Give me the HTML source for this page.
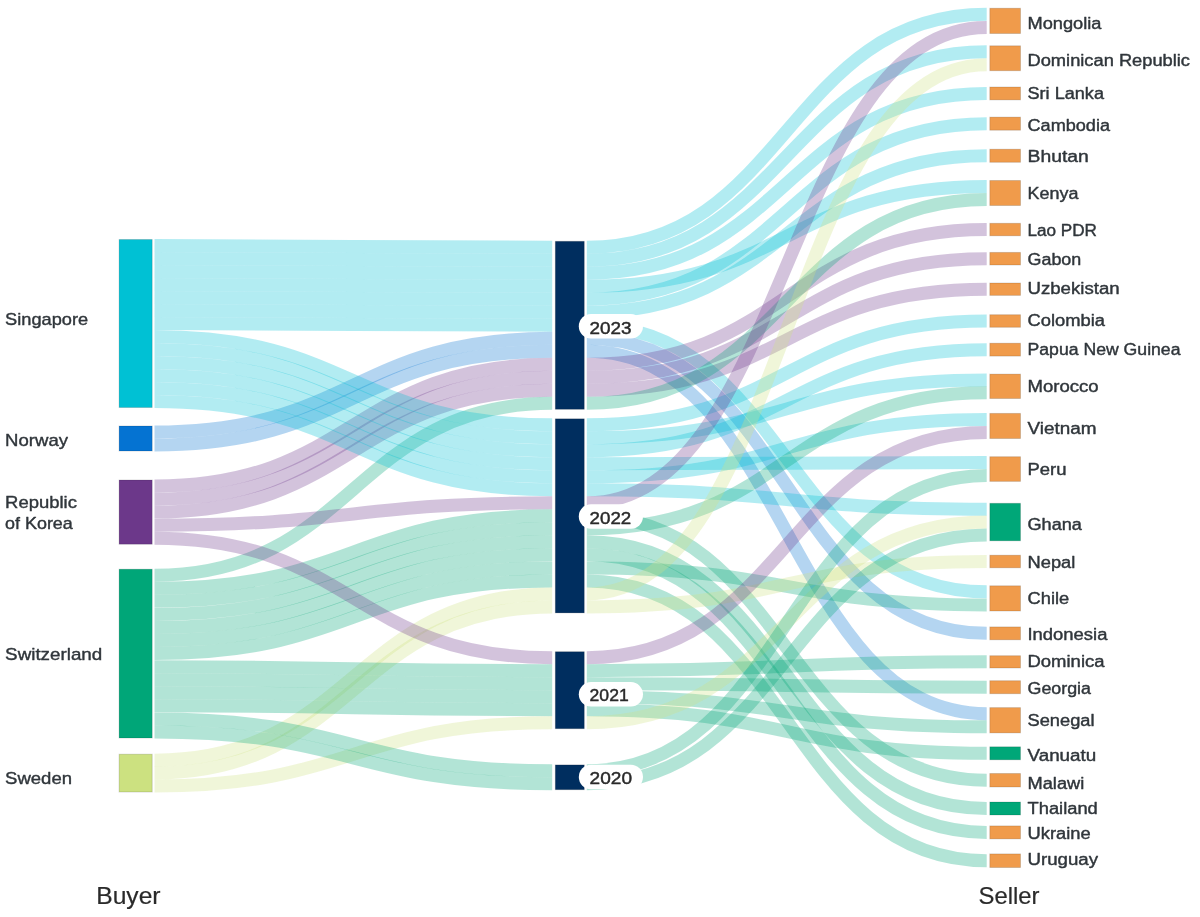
<!DOCTYPE html>
<html><head><meta charset="utf-8"><title>Sankey</title>
<style>
html,body{margin:0;padding:0;background:#fff;}
body{width:1200px;height:917px;overflow:hidden;}
svg{display:block;filter:blur(0.4px);}
.nd{stroke:#000;stroke-opacity:0.14;stroke-width:1px;}
text{font-family:"Liberation Sans",Arial,sans-serif;fill:#333;stroke-linejoin:round;}
.yl{font-size:17.4px;fill:#2a2a2a;stroke:#2a2a2a;stroke-width:0.45px;}
.bl{font-size:16.6px;fill:#30363b;stroke:#30363b;stroke-width:0.4px;}
.sl{font-size:15.6px;fill:#30363b;stroke:#30363b;stroke-width:0.4px;}
.hd{font-size:23.8px;fill:#2a2a2a;stroke:#2a2a2a;stroke-width:0.2px;}
</style></head><body>
<svg width="1200" height="917" viewBox="0 0 1200 917">
<g fill="none" stroke-opacity="0.3">
<path d="M154.5,245.50C353.4,245.50 353.4,247.30 552.2,247.30" stroke="#00C1D4" stroke-width="13.0"/>
<path d="M154.5,258.50C353.4,258.50 353.4,260.30 552.2,260.30" stroke="#00C1D4" stroke-width="13.0"/>
<path d="M154.5,271.50C353.4,271.50 353.4,273.30 552.2,273.30" stroke="#00C1D4" stroke-width="13.0"/>
<path d="M154.5,284.50C353.4,284.50 353.4,286.30 552.2,286.30" stroke="#00C1D4" stroke-width="13.0"/>
<path d="M154.5,297.50C353.4,297.50 353.4,299.30 552.2,299.30" stroke="#00C1D4" stroke-width="13.0"/>
<path d="M154.5,310.50C353.4,310.50 353.4,312.30 552.2,312.30" stroke="#00C1D4" stroke-width="13.0"/>
<path d="M154.5,323.50C353.4,323.50 353.4,325.30 552.2,325.30" stroke="#00C1D4" stroke-width="13.0"/>
<path d="M154.5,432.00C353.4,432.00 353.4,338.30 552.2,338.30" stroke="#0573D2" stroke-width="13.0"/>
<path d="M154.5,445.00C353.4,445.00 353.4,351.30 552.2,351.30" stroke="#0573D2" stroke-width="13.0"/>
<path d="M154.5,486.02C353.4,486.02 353.4,364.30 552.2,364.30" stroke="#6C388A" stroke-width="13.0"/>
<path d="M154.5,499.06C353.4,499.06 353.4,377.30 552.2,377.30" stroke="#6C388A" stroke-width="13.0"/>
<path d="M154.5,512.10C353.4,512.10 353.4,390.30 552.2,390.30" stroke="#6C388A" stroke-width="13.0"/>
<path d="M154.5,575.23C353.4,575.23 353.4,403.30 552.2,403.30" stroke="#00A678" stroke-width="13.0"/>
<path d="M154.5,336.50C353.4,336.50 353.4,424.80 552.2,424.80" stroke="#00C1D4" stroke-width="13.0"/>
<path d="M154.5,349.50C353.4,349.50 353.4,437.81 552.2,437.81" stroke="#00C1D4" stroke-width="13.0"/>
<path d="M154.5,362.50C353.4,362.50 353.4,450.82 552.2,450.82" stroke="#00C1D4" stroke-width="13.0"/>
<path d="M154.5,375.50C353.4,375.50 353.4,463.82 552.2,463.82" stroke="#00C1D4" stroke-width="13.0"/>
<path d="M154.5,388.50C353.4,388.50 353.4,476.83 552.2,476.83" stroke="#00C1D4" stroke-width="13.0"/>
<path d="M154.5,401.50C353.4,401.50 353.4,489.84 552.2,489.84" stroke="#00C1D4" stroke-width="13.0"/>
<path d="M154.5,525.14C353.4,525.14 353.4,502.84 552.2,502.84" stroke="#6C388A" stroke-width="13.0"/>
<path d="M154.5,588.29C353.4,588.29 353.4,515.85 552.2,515.85" stroke="#00A678" stroke-width="13.0"/>
<path d="M154.5,601.35C353.4,601.35 353.4,528.86 552.2,528.86" stroke="#00A678" stroke-width="13.0"/>
<path d="M154.5,614.42C353.4,614.42 353.4,541.86 552.2,541.86" stroke="#00A678" stroke-width="13.0"/>
<path d="M154.5,627.48C353.4,627.48 353.4,554.87 552.2,554.87" stroke="#00A678" stroke-width="13.0"/>
<path d="M154.5,640.54C353.4,640.54 353.4,567.88 552.2,567.88" stroke="#00A678" stroke-width="13.0"/>
<path d="M154.5,653.60C353.4,653.60 353.4,580.88 552.2,580.88" stroke="#00A678" stroke-width="13.0"/>
<path d="M154.5,760.17C353.4,760.17 353.4,593.89 552.2,593.89" stroke="#CCE180" stroke-width="13.0"/>
<path d="M154.5,773.10C353.4,773.10 353.4,606.90 552.2,606.90" stroke="#CCE180" stroke-width="13.0"/>
<path d="M154.5,538.18C353.4,538.18 353.4,657.70 552.2,657.70" stroke="#6C388A" stroke-width="13.0"/>
<path d="M154.5,666.66C353.4,666.66 353.4,670.70 552.2,670.70" stroke="#00A678" stroke-width="13.0"/>
<path d="M154.5,679.72C353.4,679.72 353.4,683.70 552.2,683.70" stroke="#00A678" stroke-width="13.0"/>
<path d="M154.5,692.78C353.4,692.78 353.4,696.70 552.2,696.70" stroke="#00A678" stroke-width="13.0"/>
<path d="M154.5,705.85C353.4,705.85 353.4,709.70 552.2,709.70" stroke="#00A678" stroke-width="13.0"/>
<path d="M154.5,786.03C353.4,786.03 353.4,722.70 552.2,722.70" stroke="#CCE180" stroke-width="13.0"/>
<path d="M154.5,718.91C353.4,718.91 353.4,770.85 552.2,770.85" stroke="#00A678" stroke-width="13.0"/>
<path d="M154.5,731.97C353.4,731.97 353.4,783.75 552.2,783.75" stroke="#00A678" stroke-width="13.0"/>
<path d="M586.8,247.30C786.8,247.30 786.8,14.31 986.7,14.31" stroke="#00C1D4" stroke-width="13.0"/>
<path d="M586.8,260.30C786.8,260.30 786.8,51.77 986.7,51.77" stroke="#00C1D4" stroke-width="13.0"/>
<path d="M586.8,273.30C786.8,273.30 786.8,93.45 986.7,93.45" stroke="#00C1D4" stroke-width="13.0"/>
<path d="M586.8,286.30C786.8,286.30 786.8,186.50 986.7,186.50" stroke="#00C1D4" stroke-width="13.0"/>
<path d="M586.8,299.30C786.8,299.30 786.8,123.65 986.7,123.65" stroke="#00C1D4" stroke-width="13.0"/>
<path d="M586.8,312.30C786.8,312.30 786.8,155.75 986.7,155.75" stroke="#00C1D4" stroke-width="13.0"/>
<path d="M586.8,325.30C786.8,325.30 786.8,591.85 986.7,591.85" stroke="#00C1D4" stroke-width="13.0"/>
<path d="M586.8,338.30C786.8,338.30 786.8,633.35 986.7,633.35" stroke="#0573D2" stroke-width="13.0"/>
<path d="M586.8,351.30C786.8,351.30 786.8,713.67 986.7,713.67" stroke="#0573D2" stroke-width="13.0"/>
<path d="M586.8,364.30C786.8,364.30 786.8,229.55 986.7,229.55" stroke="#6C388A" stroke-width="13.0"/>
<path d="M586.8,377.30C786.8,377.30 786.8,258.70 986.7,258.70" stroke="#6C388A" stroke-width="13.0"/>
<path d="M586.8,390.30C786.8,390.30 786.8,289.20 986.7,289.20" stroke="#6C388A" stroke-width="13.0"/>
<path d="M586.8,403.30C786.8,403.30 786.8,199.50 986.7,199.50" stroke="#00A678" stroke-width="13.0"/>
<path d="M586.8,424.80C786.8,424.80 786.8,321.00 986.7,321.00" stroke="#00C1D4" stroke-width="13.0"/>
<path d="M586.8,437.81C786.8,437.81 786.8,379.95 986.7,379.95" stroke="#00C1D4" stroke-width="13.0"/>
<path d="M586.8,450.82C786.8,450.82 786.8,349.65 986.7,349.65" stroke="#00C1D4" stroke-width="13.0"/>
<path d="M586.8,463.82C786.8,463.82 786.8,462.62 986.7,462.62" stroke="#00C1D4" stroke-width="13.0"/>
<path d="M586.8,476.83C786.8,476.83 786.8,419.42 986.7,419.42" stroke="#00C1D4" stroke-width="13.0"/>
<path d="M586.8,489.84C786.8,489.84 786.8,509.22 986.7,509.22" stroke="#00C1D4" stroke-width="13.0"/>
<path d="M586.8,502.84C786.8,502.84 786.8,27.44 986.7,27.44" stroke="#6C388A" stroke-width="13.0"/>
<path d="M586.8,515.85C786.8,515.85 786.8,780.25 986.7,780.25" stroke="#00A678" stroke-width="13.0"/>
<path d="M586.8,528.86C786.8,528.86 786.8,392.65 986.7,392.65" stroke="#00A678" stroke-width="13.0"/>
<path d="M586.8,541.86C786.8,541.86 786.8,808.50 986.7,808.50" stroke="#00A678" stroke-width="13.0"/>
<path d="M586.8,554.87C786.8,554.87 786.8,832.40 986.7,832.40" stroke="#00A678" stroke-width="13.0"/>
<path d="M586.8,567.88C786.8,567.88 786.8,604.95 986.7,604.95" stroke="#00A678" stroke-width="13.0"/>
<path d="M586.8,580.88C786.8,580.88 786.8,860.70 986.7,860.70" stroke="#00A678" stroke-width="13.0"/>
<path d="M586.8,593.89C786.8,593.89 786.8,64.72 986.7,64.72" stroke="#CCE180" stroke-width="13.0"/>
<path d="M586.8,606.90C786.8,606.90 786.8,561.50 986.7,561.50" stroke="#CCE180" stroke-width="13.0"/>
<path d="M586.8,657.70C786.8,657.70 786.8,432.48 986.7,432.48" stroke="#6C388A" stroke-width="13.0"/>
<path d="M586.8,670.70C786.8,670.70 786.8,661.85 986.7,661.85" stroke="#00A678" stroke-width="13.0"/>
<path d="M586.8,683.70C786.8,683.70 786.8,687.20 986.7,687.20" stroke="#00A678" stroke-width="13.0"/>
<path d="M586.8,696.70C786.8,696.70 786.8,726.83 986.7,726.83" stroke="#00A678" stroke-width="13.0"/>
<path d="M586.8,709.70C786.8,709.70 786.8,753.30 986.7,753.30" stroke="#00A678" stroke-width="13.0"/>
<path d="M586.8,722.70C786.8,722.70 786.8,522.05 986.7,522.05" stroke="#CCE180" stroke-width="13.0"/>
<path d="M586.8,770.85C786.8,770.85 786.8,475.47 986.7,475.47" stroke="#00A678" stroke-width="13.0"/>
<path d="M586.8,783.75C786.8,783.75 786.8,534.88 986.7,534.88" stroke="#00A678" stroke-width="13.0"/>
</g>
<rect x="119.10" y="239.50" width="33.10" height="168.00" fill="#00C1D4" class="nd"/>
<rect x="119.10" y="426.00" width="33.10" height="25.00" fill="#0573D2" class="nd"/>
<rect x="119.10" y="480.00" width="33.10" height="64.20" fill="#6C388A" class="nd"/>
<rect x="119.10" y="569.20" width="33.10" height="168.80" fill="#00A678" class="nd"/>
<rect x="119.10" y="754.20" width="33.10" height="37.80" fill="#CCE180" class="nd"/>
<rect x="555.30" y="241.30" width="29.00" height="168.00" fill="#002E5F" class="nd"/>
<rect x="555.30" y="418.80" width="29.00" height="194.10" fill="#002E5F" class="nd"/>
<rect x="555.30" y="651.70" width="29.00" height="77.00" fill="#002E5F" class="nd"/>
<rect x="555.30" y="764.90" width="29.00" height="24.80" fill="#002E5F" class="nd"/>
<rect x="989.80" y="8.25" width="30.70" height="25.25" fill="#F09B4B" class="nd"/>
<rect x="989.80" y="45.80" width="30.70" height="24.90" fill="#F09B4B" class="nd"/>
<rect x="989.80" y="87.00" width="30.70" height="12.90" fill="#F09B4B" class="nd"/>
<rect x="989.80" y="117.10" width="30.70" height="13.10" fill="#F09B4B" class="nd"/>
<rect x="989.80" y="149.20" width="30.70" height="13.10" fill="#F09B4B" class="nd"/>
<rect x="989.80" y="180.50" width="30.70" height="25.00" fill="#F09B4B" class="nd"/>
<rect x="989.80" y="223.30" width="30.70" height="12.50" fill="#F09B4B" class="nd"/>
<rect x="989.80" y="252.40" width="30.70" height="12.60" fill="#F09B4B" class="nd"/>
<rect x="989.80" y="283.00" width="30.70" height="12.40" fill="#F09B4B" class="nd"/>
<rect x="989.80" y="314.70" width="30.70" height="12.60" fill="#F09B4B" class="nd"/>
<rect x="989.80" y="343.20" width="30.70" height="12.90" fill="#F09B4B" class="nd"/>
<rect x="989.80" y="374.10" width="30.70" height="24.40" fill="#F09B4B" class="nd"/>
<rect x="989.80" y="413.40" width="30.70" height="25.10" fill="#F09B4B" class="nd"/>
<rect x="989.80" y="456.70" width="30.70" height="24.70" fill="#F09B4B" class="nd"/>
<rect x="989.80" y="503.30" width="30.70" height="37.50" fill="#00A778" class="nd"/>
<rect x="989.80" y="555.20" width="30.70" height="12.60" fill="#F09B4B" class="nd"/>
<rect x="989.80" y="585.80" width="30.70" height="25.20" fill="#F09B4B" class="nd"/>
<rect x="989.80" y="626.90" width="30.70" height="12.90" fill="#F09B4B" class="nd"/>
<rect x="989.80" y="655.70" width="30.70" height="12.30" fill="#F09B4B" class="nd"/>
<rect x="989.80" y="680.70" width="30.70" height="13.00" fill="#F09B4B" class="nd"/>
<rect x="989.80" y="707.60" width="30.70" height="25.30" fill="#F09B4B" class="nd"/>
<rect x="989.80" y="746.80" width="30.70" height="13.00" fill="#00A778" class="nd"/>
<rect x="989.80" y="773.50" width="30.70" height="13.50" fill="#F09B4B" class="nd"/>
<rect x="989.80" y="802.00" width="30.70" height="13.00" fill="#00A778" class="nd"/>
<rect x="989.80" y="825.90" width="30.70" height="13.00" fill="#F09B4B" class="nd"/>
<rect x="989.80" y="853.90" width="30.70" height="13.60" fill="#F09B4B" class="nd"/>
<rect x="578.8" y="314.05" width="64.2" height="24.4" rx="12.2" fill="#fff"/>
<text x="589.6" y="333.75" class="yl" textLength="42.0" lengthAdjust="spacingAndGlyphs">2023</text>
<rect x="578.8" y="504.30" width="64.2" height="24.4" rx="12.2" fill="#fff"/>
<text x="589.6" y="523.75" class="yl" textLength="41.6" lengthAdjust="spacingAndGlyphs">2022</text>
<rect x="578.8" y="682.10" width="64.2" height="24.4" rx="12.2" fill="#fff"/>
<text x="589.6" y="701.2" class="yl" textLength="39.1" lengthAdjust="spacingAndGlyphs">2021</text>
<rect x="578.8" y="764.80" width="64.2" height="24.4" rx="12.2" fill="#fff"/>
<text x="589.6" y="783.75" class="yl" textLength="42.4" lengthAdjust="spacingAndGlyphs">2020</text>
<text x="5.1" y="324.8" class="bl" textLength="83.0" lengthAdjust="spacingAndGlyphs">Singapore</text>
<text x="5.1" y="446.1" class="bl" textLength="62.9" lengthAdjust="spacingAndGlyphs">Norway</text>
<text x="5.1" y="507.5" class="bl" textLength="71.8" lengthAdjust="spacingAndGlyphs">Republic</text>
<text x="5.1" y="528.6" class="bl" textLength="67.7" lengthAdjust="spacingAndGlyphs">of Korea</text>
<text x="5.1" y="659.8" class="bl" textLength="97.2" lengthAdjust="spacingAndGlyphs">Switzerland</text>
<text x="5.1" y="783.7" class="bl" textLength="66.9" lengthAdjust="spacingAndGlyphs">Sweden</text>
<text x="1027.5" y="29.0" class="sl" textLength="74.0" lengthAdjust="spacingAndGlyphs">Mongolia</text>
<text x="1027.5" y="65.7" class="sl" textLength="162.5" lengthAdjust="spacingAndGlyphs">Dominican Republic</text>
<text x="1027.5" y="98.7" class="sl" textLength="76.5" lengthAdjust="spacingAndGlyphs">Sri Lanka</text>
<text x="1027.5" y="130.7" class="sl" textLength="82.5" lengthAdjust="spacingAndGlyphs">Cambodia</text>
<text x="1027.5" y="161.7" class="sl" textLength="61.3" lengthAdjust="spacingAndGlyphs">Bhutan</text>
<text x="1027.5" y="199.4" class="sl" textLength="50.9" lengthAdjust="spacingAndGlyphs">Kenya</text>
<text x="1027.5" y="236.4" class="sl" textLength="69.5" lengthAdjust="spacingAndGlyphs">Lao PDR</text>
<text x="1027.5" y="265.3" class="sl" textLength="53.8" lengthAdjust="spacingAndGlyphs">Gabon</text>
<text x="1027.5" y="293.8" class="sl" textLength="92.1" lengthAdjust="spacingAndGlyphs">Uzbekistan</text>
<text x="1027.5" y="326.2" class="sl" textLength="77.5" lengthAdjust="spacingAndGlyphs">Colombia</text>
<text x="1027.5" y="355.0" class="sl" textLength="153.0" lengthAdjust="spacingAndGlyphs">Papua New Guinea</text>
<text x="1027.5" y="392.4" class="sl" textLength="71.2" lengthAdjust="spacingAndGlyphs">Morocco</text>
<text x="1027.5" y="434.0" class="sl" textLength="69.0" lengthAdjust="spacingAndGlyphs">Vietnam</text>
<text x="1027.5" y="475.2" class="sl" textLength="39.0" lengthAdjust="spacingAndGlyphs">Peru</text>
<text x="1027.5" y="530.2" class="sl" textLength="54.4" lengthAdjust="spacingAndGlyphs">Ghana</text>
<text x="1027.5" y="567.6" class="sl" textLength="47.8" lengthAdjust="spacingAndGlyphs">Nepal</text>
<text x="1027.5" y="604.2" class="sl" textLength="41.7" lengthAdjust="spacingAndGlyphs">Chile</text>
<text x="1027.5" y="639.7" class="sl" textLength="79.9" lengthAdjust="spacingAndGlyphs">Indonesia</text>
<text x="1027.5" y="667.2" class="sl" textLength="77.0" lengthAdjust="spacingAndGlyphs">Dominica</text>
<text x="1027.5" y="693.7" class="sl" textLength="63.5" lengthAdjust="spacingAndGlyphs">Georgia</text>
<text x="1027.5" y="725.7" class="sl" textLength="67.0" lengthAdjust="spacingAndGlyphs">Senegal</text>
<text x="1027.5" y="761.2" class="sl" textLength="68.8" lengthAdjust="spacingAndGlyphs">Vanuatu</text>
<text x="1027.5" y="788.7" class="sl" textLength="56.8" lengthAdjust="spacingAndGlyphs">Malawi</text>
<text x="1027.5" y="813.7" class="sl" textLength="70.3" lengthAdjust="spacingAndGlyphs">Thailand</text>
<text x="1027.5" y="838.8" class="sl" textLength="63.1" lengthAdjust="spacingAndGlyphs">Ukraine</text>
<text x="1027.5" y="864.7" class="sl" textLength="70.6" lengthAdjust="spacingAndGlyphs">Uruguay</text>
<text x="96.2" y="903.8" class="hd" textLength="64.4" lengthAdjust="spacingAndGlyphs">Buyer</text>
<text x="978.5" y="903.8" class="hd" textLength="61.0" lengthAdjust="spacingAndGlyphs">Seller</text>
</svg>
</body></html>
